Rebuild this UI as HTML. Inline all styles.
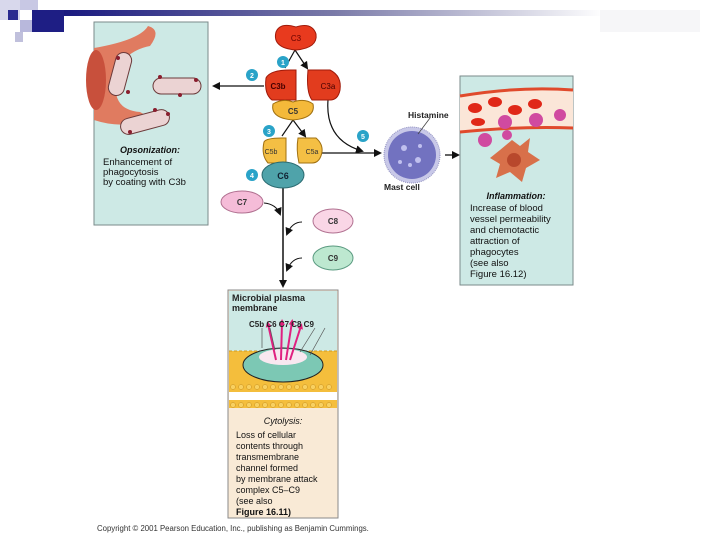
<!DOCTYPE html>
<html><head><style>
body{margin:0;width:720px;height:540px;background:#fff;overflow:hidden;font-family:"Liberation Sans",sans-serif}
</style></head><body>
<svg width="720" height="540" viewBox="0 0 720 540" xmlns="http://www.w3.org/2000/svg" font-family="Liberation Sans, sans-serif">
<defs>
<linearGradient id="bar" x1="0" x2="1"><stop offset="0" stop-color="#1a1a80"/><stop offset="0.5" stop-color="#7a7aa8"/><stop offset="1" stop-color="#fff"/></linearGradient>
<marker id="ah" markerWidth="8" markerHeight="8" refX="6" refY="4" orient="auto" markerUnits="userSpaceOnUse"><path d="M0,0L8,4L0,8z" fill="#111"/></marker>
<marker id="pk" markerWidth="6" markerHeight="6" refX="3" refY="3" orient="auto" markerUnits="userSpaceOnUse"><path d="M0,0L6,3L0,6z" fill="#e0207a"/></marker>
</defs>
<rect x="0" y="0" width="20" height="20" fill="#d8d8ec"/>
<rect x="20" y="0" width="18" height="10" fill="#c8c8e4"/>
<rect x="8" y="10" width="10" height="10" fill="#2a2a90"/>
<rect x="20" y="20" width="12" height="12" fill="#b8b8dc"/>
<rect x="32" y="10" width="32" height="22" fill="#1e1e84"/>
<rect x="15" y="32" width="8" height="10" fill="#c0c0dc"/>
<rect x="64" y="10" width="540" height="6" fill="url(#bar)"/>
<rect x="600" y="10" width="100" height="22" fill="#f6f6f8"/>

<rect x="94" y="22" width="114" height="203" fill="#cde9e5" stroke="#7a8a8a"/>
<path d="M94,48 Q140,40 148,26 Q162,30 150,46 Q120,52 116,80 Q112,110 140,112 Q152,118 140,122 Q118,128 94,120z" fill="#e07b60"/>
<ellipse cx="96" cy="80" rx="10" ry="30" fill="#c8503c"/>
<g fill="#ebd3d3" stroke="#6b3a3a">
<rect x="112" y="52" width="16" height="44" rx="8" transform="rotate(15 120 74)"/>
<rect x="153" y="78" width="48" height="16" rx="8"/>
<rect x="120" y="114" width="50" height="16" rx="8" transform="rotate(-15 145 122)"/>
</g>
<g fill="#8a1e2e"><circle cx="118" cy="58" r="2"/><circle cx="128" cy="92" r="2"/><circle cx="160" cy="77" r="2"/><circle cx="180" cy="95" r="2"/><circle cx="196" cy="80" r="2"/><circle cx="130" cy="132" r="2"/><circle cx="155" cy="110" r="2"/><circle cx="168" cy="114" r="2"/></g>
<text x="150" y="153" font-size="9" font-style="italic" font-weight="bold" text-anchor="middle" fill="#111">Opsonization:</text>
<text font-size="9.5" fill="#111"><tspan x="103" y="165">Enhancement of</tspan><tspan x="103" y="175">phagocytosis</tspan><tspan x="103" y="185">by coating with C3b</tspan></text>

<path d="M264,86 L214,86" stroke="#111" stroke-width="1.3" marker-end="url(#ah)"/>
<path d="M295,50 L285,68 M295,50 L307,68" stroke="#111" stroke-width="1.2" fill="none" marker-end="url(#ah)"/>
<path d="M293,120 L282,136 M293,120 L305,136" stroke="#111" stroke-width="1.2" fill="none" marker-end="url(#ah)"/>
<path d="M328,100 Q325,140 362,151" stroke="#111" stroke-width="1.2" fill="none" marker-end="url(#ah)"/>
<path d="M322,153 L380,153" stroke="#111" stroke-width="1.2" marker-end="url(#ah)"/>
<path d="M445,155 L458,155" stroke="#111" stroke-width="1.3" marker-end="url(#ah)"/>
<path d="M283,188 L283,286" stroke="#111" stroke-width="1.5" marker-end="url(#ah)"/>
<path d="M264,203 Q276,204 280,214" stroke="#111" stroke-width="1" fill="none" marker-end="url(#ah)"/>
<path d="M302,222 Q292,222 287,234" stroke="#111" stroke-width="1" fill="none" marker-end="url(#ah)"/>
<path d="M302,258 Q292,258 287,270" stroke="#111" stroke-width="1" fill="none" marker-end="url(#ah)"/>

<path d="M276,32 Q280,22 296,27 Q312,22 316,34 Q318,48 296,50 Q272,48 276,32z" fill="#e83a1e" stroke="#a01a0a"/>
<text x="296" y="41" font-size="8" text-anchor="middle" fill="#600">C3</text>
<path d="M266,78 Q270,70 290,70 L296,70 L296,100 L272,100 Q264,94 266,78z" fill="#e23c1e" stroke="#a01a0a"/>
<text x="278" y="89" font-size="8" font-weight="bold" text-anchor="middle" fill="#400">C3b</text>
<path d="M308,70 L330,70 Q342,76 340,90 Q338,100 330,100 L312,100 Q306,92 308,70z" fill="#e23c1e" stroke="#a01a0a"/>
<text x="328" y="89" font-size="8" text-anchor="middle" fill="#400">C3a</text>
<path d="M273,104 Q283,98 293,102 Q305,98 313,104 Q316,118 293,120 Q270,118 273,104z" fill="#f4b93a" stroke="#a07010"/>
<text x="293" y="114" font-size="8" font-weight="bold" text-anchor="middle" fill="#333">C5</text>
<path d="M264,142 Q266,138 282,138 L286,138 L286,163 L268,163 Q261,155 264,142z" fill="#f4bf44" stroke="#a07010"/>
<text x="271" y="154" font-size="7" text-anchor="middle" fill="#333">C5b</text>
<path d="M298,138 L316,138 Q323,144 322,152 Q320,163 312,163 L299,163 Q296,150 298,138z" fill="#f4bf44" stroke="#a07010"/>
<text x="312" y="154" font-size="7" text-anchor="middle" fill="#333">C5a</text>
<ellipse cx="283" cy="175" rx="21" ry="13" fill="#4fa3aa" stroke="#2a6a70"/>
<text x="283" y="179" font-size="9" font-weight="bold" text-anchor="middle" fill="#123">C6</text>
<ellipse cx="242" cy="202" rx="21" ry="11" fill="#f5bcd8" stroke="#b07090"/>
<text x="242" y="205" font-size="8" font-weight="bold" text-anchor="middle" fill="#333">C7</text>
<ellipse cx="333" cy="221" rx="20" ry="12" fill="#fad6e6" stroke="#b07090"/>
<text x="333" y="224" font-size="8" font-weight="bold" text-anchor="middle" fill="#333">C8</text>
<ellipse cx="333" cy="258" rx="20" ry="12" fill="#bde8d0" stroke="#5a9a80"/>
<text x="333" y="261" font-size="8" font-weight="bold" text-anchor="middle" fill="#333">C9</text>

<g fill="#2aa3c8">
<circle cx="283" cy="62" r="6"/><circle cx="252" cy="75" r="6"/><circle cx="269" cy="131" r="6"/><circle cx="252" cy="175" r="6"/><circle cx="363" cy="136" r="6"/>
</g>
<g fill="#fff" font-size="7" font-weight="bold" text-anchor="middle">
<text x="283" y="65">1</text><text x="252" y="78">2</text><text x="269" y="134">3</text><text x="252" y="178">4</text><text x="363" y="139">5</text>
</g>

<circle cx="412" cy="155" r="28" fill="#c8c8e8" stroke="#9090c0" stroke-dasharray="1 1"/>
<circle cx="412" cy="155" r="24" fill="#7272c0"/>
<g fill="#c0c0ee"><circle cx="404" cy="148" r="3"/><circle cx="418" cy="160" r="3"/><circle cx="410" cy="165" r="2"/><circle cx="420" cy="146" r="2"/><circle cx="400" cy="162" r="2"/></g>
<path d="M430,118 L418,134" stroke="#444" stroke-width="0.8"/>
<text x="408" y="118" font-size="8.5" font-weight="bold" fill="#222">Histamine</text>
<text x="384" y="190" font-size="8.5" font-weight="bold" fill="#222">Mast cell</text>

<rect x="460" y="76" width="113" height="209" fill="#cde9e5" stroke="#7a8a8a"/>
<path d="M460,96 Q520,86 573,90 L573,128 Q520,126 460,132z" fill="#fbe6d8"/>
<path d="M460,96 Q520,86 573,90" stroke="#e04a2c" stroke-width="3" fill="none"/>
<path d="M460,132 Q520,126 573,128" stroke="#e04a2c" stroke-width="3" fill="none"/>
<g fill="#e02818"><ellipse cx="475" cy="108" rx="7" ry="5"/><ellipse cx="495" cy="102" rx="7" ry="5"/><ellipse cx="515" cy="110" rx="7" ry="5"/><ellipse cx="535" cy="104" rx="7" ry="5"/><ellipse cx="478" cy="122" rx="7" ry="4"/></g>
<g fill="#d04aa0"><circle cx="505" cy="122" r="7"/><circle cx="536" cy="120" r="7"/><circle cx="560" cy="115" r="6"/><circle cx="485" cy="140" r="7"/><circle cx="507" cy="135" r="5"/></g>
<path d="M500,150 L512,140 L520,146 L530,138 L528,152 L540,160 L526,168 L522,182 L510,172 L496,178 L500,164 L490,158z" fill="#d8704a"/>
<circle cx="514" cy="160" r="7" fill="#b8482c"/>
<text x="516" y="199" font-size="9" font-style="italic" font-weight="bold" text-anchor="middle" fill="#111">Inflammation:</text>
<text font-size="9.5" fill="#111"><tspan x="470" y="211">Increase of blood</tspan><tspan x="470" y="222">vessel permeability</tspan><tspan x="470" y="233">and chemotactic</tspan><tspan x="470" y="244">attraction of</tspan><tspan x="470" y="255">phagocytes</tspan><tspan x="470" y="266">(see also</tspan><tspan x="470" y="277">Figure 16.12)</tspan></text>

<rect x="228" y="290" width="110" height="228" fill="#f9ead6" stroke="#8a8a8a"/>
<rect x="229" y="291" width="108" height="60" fill="#cde9e5"/>
<rect x="229" y="351" width="108" height="33" fill="#f4be3c"/>
<path d="M229,351 L337,351" stroke="#d09a20" stroke-dasharray="3 2"/>
<ellipse cx="283" cy="365" rx="40" ry="17" fill="#7cc8b4" stroke="#222"/>
<ellipse cx="283" cy="357" rx="24" ry="8" fill="#f8e8f0"/>
<g stroke="#e02080" stroke-width="2" marker-end="url(#pk)"><path d="M276,360 L268,324"/><path d="M281,360 L282,322"/><path d="M286,360 L292,322"/><path d="M290,360 L301,326"/></g>
<g fill="#f4be3c"><rect x="229" y="384" width="108" height="8"/><rect x="229" y="400" width="108" height="8"/></g>
<rect x="229" y="392" width="108" height="8" fill="#fff"/>
<g fill="#f8d060" stroke="#c89020" stroke-width="0.5">
<circle cx="233" cy="387" r="2.5"/><circle cx="241" cy="387" r="2.5"/><circle cx="249" cy="387" r="2.5"/><circle cx="257" cy="387" r="2.5"/><circle cx="265" cy="387" r="2.5"/><circle cx="273" cy="387" r="2.5"/><circle cx="281" cy="387" r="2.5"/><circle cx="289" cy="387" r="2.5"/><circle cx="297" cy="387" r="2.5"/><circle cx="305" cy="387" r="2.5"/><circle cx="313" cy="387" r="2.5"/><circle cx="321" cy="387" r="2.5"/><circle cx="329" cy="387" r="2.5"/>
<circle cx="233" cy="405" r="2.5"/><circle cx="241" cy="405" r="2.5"/><circle cx="249" cy="405" r="2.5"/><circle cx="257" cy="405" r="2.5"/><circle cx="265" cy="405" r="2.5"/><circle cx="273" cy="405" r="2.5"/><circle cx="281" cy="405" r="2.5"/><circle cx="289" cy="405" r="2.5"/><circle cx="297" cy="405" r="2.5"/><circle cx="305" cy="405" r="2.5"/><circle cx="313" cy="405" r="2.5"/><circle cx="321" cy="405" r="2.5"/><circle cx="329" cy="405" r="2.5"/>
</g>
<g stroke="#555" stroke-width="0.7" fill="none"><path d="M262,328 L262,348"/><path d="M270,328 L275,350"/><path d="M315,328 L300,352"/><path d="M325,328 L310,355"/></g>
<text font-size="9" font-weight="bold" fill="#222"><tspan x="232" y="301">Microbial plasma</tspan><tspan x="232" y="311">membrane</tspan></text>
<text x="249" y="327" font-size="8" font-weight="bold" fill="#222">C5b  C6  C7  C8  C9</text>
<text x="283" y="424" font-size="9" font-style="italic" text-anchor="middle" fill="#111">Cytolysis:</text>
<text font-size="9" fill="#111"><tspan x="236" y="438">Loss of cellular</tspan><tspan x="236" y="449">contents through</tspan><tspan x="236" y="460">transmembrane</tspan><tspan x="236" y="471">channel formed</tspan><tspan x="236" y="482">by membrane attack</tspan><tspan x="236" y="493">complex C5–C9</tspan><tspan x="236" y="504">(see also</tspan><tspan x="236" y="515" font-weight="bold">Figure 16.11)</tspan></text>

<text x="97" y="531" font-size="7.8" fill="#333">Copyright © 2001 Pearson Education, Inc., publishing as Benjamin Cummings.</text>
</svg>
</body></html>
